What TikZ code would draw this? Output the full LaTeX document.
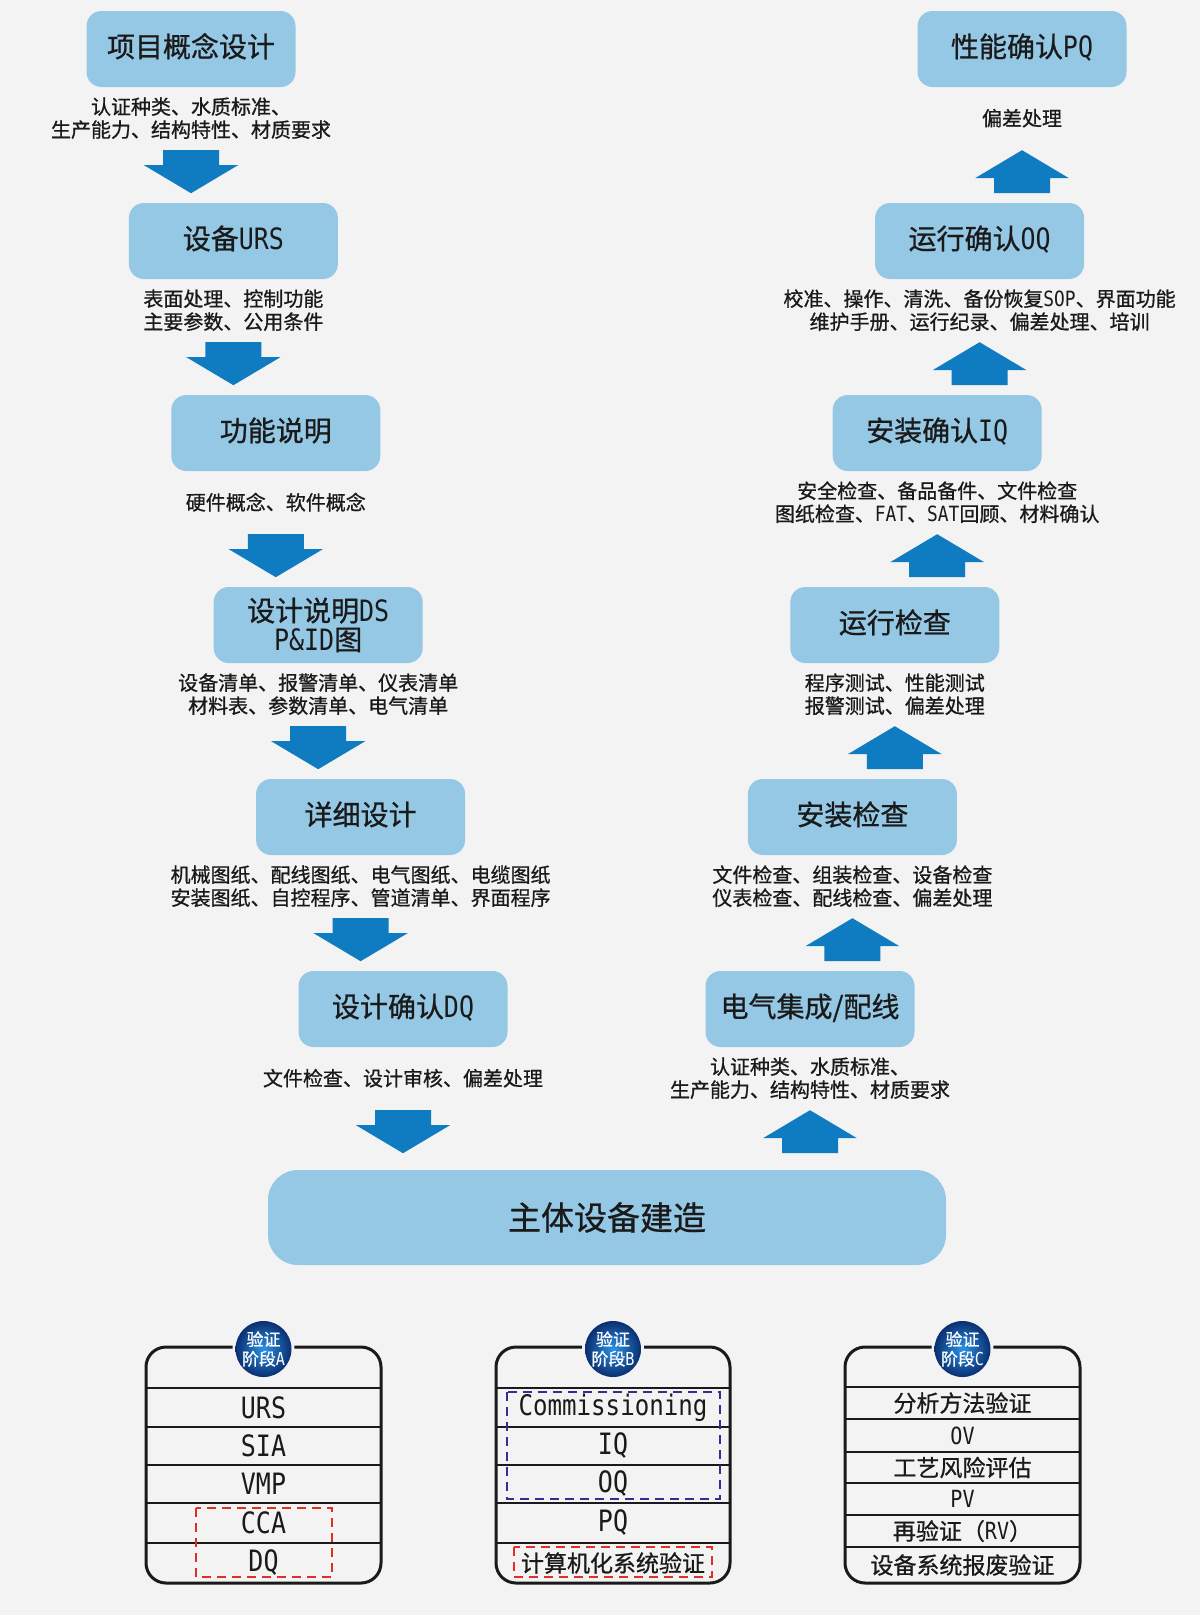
\documentclass[tikz,border=0pt]{standalone}
\usepackage{fontspec}
\setmainfont{Noto Sans CJK SC}[FakeBold=0.8]
\newfontfamily\monolat[Scale=1.05,FakeStretch=0.85]{DejaVu Sans Mono}
\usetikzlibrary{calc}
\definecolor{bg}{HTML}{F3F3F3}
\definecolor{boxblue}{HTML}{95C8E5}
\definecolor{arrblue}{HTML}{0F7BC0}
\definecolor{ink}{HTML}{1A1A1A}
\definecolor{dred}{HTML}{E52D27}
\definecolor{dnavy}{HTML}{2E3192}
\definecolor{badgelight}{HTML}{2A93E6}
\definecolor{badgedark}{HTML}{0B2F70}
\newcommand\smlat[1]{{\monolat\fontsize{22.5}{24}\selectfont #1}}
\tikzset{
 boxbase/.style={rounded corners=15pt, fill=boxblue, minimum width=209pt, minimum height=76pt, inner sep=0pt, align=center, font=\fontsize{28}{29}\selectfont, text=ink},
 stepbox/.style={boxbase, text height=22pt, text depth=5.8pt},
 mainbox/.style={rounded corners=30pt, fill=boxblue, minimum width=678pt, minimum height=95pt, inner sep=0pt, font=\fontsize{33}{35}\selectfont, text=ink},
 lab/.style={align=center, inner sep=0pt, font=\fontsize{20}{23}\selectfont, text=ink},
 downarr/.pic={\fill[arrblue] (-28,0) -- (28,0) -- (28,15) -- (47,15) -- (0,43) -- (-47,15) -- (-28,15) -- cycle;},
 uparr/.pic={\fill[arrblue] (0,0) -- (47,28) -- (28,28) -- (28,43) -- (-28,43) -- (-28,28) -- (-47,28) -- cycle;},
 tbl/.style={draw=ink, line width=3pt, rounded corners=20pt},
 rowline/.style={draw=ink, line width=2.5pt},
 rowL/.style={font=\monolat\fontsize{28}{30}\selectfont, text=ink, inner sep=0pt},
 rowS/.style={font=\monolat\fontsize{27}{29}\selectfont, text=ink, inner sep=0pt},
 rowC/.style={font=\fontsize{23}{25}\selectfont, text=ink, inner sep=0pt},
 badgetxt/.style={font=\fontsize{17}{19.5}\selectfont, text=white, align=center, inner sep=0pt},
 reddash/.style={draw=dred, line width=2pt, dash pattern=on 9pt off 6pt},
 bluedash/.style={draw=dnavy, line width=2pt, dash pattern=on 9pt off 6pt},
}
\begin{document}
\begin{tikzpicture}[x=1pt,y=-1pt]
\fill[bg] (0,0) rectangle (1200,1615);
\useasboundingbox (0,0) rectangle (1200,1615);
% left column
\node[stepbox] (l1) at (191,49) {项目概念设计};
\node[stepbox] (l2) at (233.4,241) {设备{\monolat URS}};
\node[stepbox] (l3) at (275.8,433) {功能说明};
\node[boxbase] (l4) at (318.2,625) {设计说明{\monolat DS}\\{\monolat P\&ID}图};
\node[stepbox] (l5) at (360.6,817) {详细设计};
\node[stepbox] (l6) at (403,1009) {设计确认{\monolat DQ}};
% right column
\node[stepbox] (r1) at (1022,49) {性能确认{\monolat PQ}};
\node[stepbox] (r2) at (979.6,241) {运行确认{\monolat OQ}};
\node[stepbox] (r3) at (937.2,433) {安装确认{\monolat IQ}};
\node[stepbox] (r4) at (894.8,625) {运行检查};
\node[stepbox] (r5) at (852.4,817) {安装检查};
\node[stepbox] (r6) at (810,1009) {电气集成/配线};
% labels left
\node[lab] (la1) at ($(l1.south)+(0,31)$) {认证种类、水质标准、\\生产能力、结构特性、材质要求};
\node[lab] (la2) at ($(l2.south)+(0,31)$) {表面处理、控制功能\\主要参数、公用条件};
\node[lab] (la3) at ($(l3.south)+(0,31)$) {硬件概念、软件概念};
\node[lab] (la4) at ($(l4.south)+(0,31)$) {设备清单、报警清单、仪表清单\\材料表、参数清单、电气清单};
\node[lab] (la5) at ($(l5.south)+(0,31)$) {机械图纸、配线图纸、电气图纸、电缆图纸\\安装图纸、自控程序、管道清单、界面程序};
\node[lab] (la6) at ($(l6.south)+(0,31)$) {文件检查、设计审核、偏差处理};
% labels right
\node[lab] (ra1) at ($(r1.south)+(0,31)$) {偏差处理};
\node[lab] (ra2) at ($(r2.south)+(0,31)$) {校准、操作、清洗、备份恢复{\monolat SOP}、界面功能\\维护手册、运行纪录、偏差处理、培训};
\node[lab] (ra3) at ($(r3.south)+(0,31)$) {安全检查、备品备件、文件检查\\图纸检查、{\monolat FAT}、{\monolat SAT}回顾、材料确认};
\node[lab] (ra4) at ($(r4.south)+(0,31)$) {程序测试、性能测试\\报警测试、偏差处理};
\node[lab] (ra5) at ($(r5.south)+(0,31)$) {文件检查、组装检查、设备检查\\仪表检查、配线检查、偏差处理};
\node[lab] (ra6) at ($(r6.south)+(0,31)$) {认证种类、水质标准、\\生产能力、结构特性、材质要求};
% arrows
\foreach \b in {l1,l2,l3,l4,l5,l6} { \pic at ($(\b.south)+(0,63)$) {downarr}; }
\foreach \b in {r1,r2,r3,r4,r5,r6} { \pic at ($(\b.south)+(0,63)$) {uparr}; }
% main box
\node[mainbox] (main) at (607,1217.5) {主体设备建造};
% ---------- table A
\draw[tbl] (146,1347) rectangle (381,1583);
\foreach \yy in {1388,1427,1465,1503,1543} { \draw[rowline] (146,\yy) -- (381,\yy); }
\node[rowL] (ta1) at (263.5,1407.5) {URS};
\node[rowL] (ta2) at (263.5,1446) {SIA};
\node[rowL] (ta3) at (263.5,1484) {VMP};
\node[rowL] (ta4) at (263.5,1523) {CCA};
\node[rowL] (ta5) at (263.5,1563) {DQ};
\draw[reddash] (196,1508) rectangle (332,1577);
\fill[bg] (263.5,1349) circle (31pt);
\shade[inner color=badgelight, outer color=badgedark] (263.5,1349) circle (28pt);
\node[badgetxt] (bA) at (263.5,1349) {验证\\阶段{\monolat A}};
% ---------- table B
\draw[tbl] (496,1347) rectangle (730,1583);
\foreach \yy in {1388,1427,1465,1503,1543} { \draw[rowline] (496,\yy) -- (730,\yy); }
\node[rowS] (tb1) at (613,1407.5) {Commissioning};
\node[rowL] (tb2) at (613,1446) {IQ};
\node[rowL] (tb3) at (613,1484) {OQ};
\node[rowL] (tb4) at (613,1523) {PQ};
\node[rowC] (tb5) at (613,1563) {计算机化系统验证};
\draw[bluedash] (507,1392) rectangle (720,1499);
\draw[reddash] (514,1547) rectangle (712,1577);
\fill[bg] (613,1349) circle (31pt);
\shade[inner color=badgelight, outer color=badgedark] (613,1349) circle (28pt);
\node[badgetxt] (bB) at (613,1349) {验证\\阶段{\monolat B}};
% ---------- table C
\draw[tbl] (845,1347) rectangle (1080,1583);
\foreach \yy in {1387,1419,1452,1483,1515,1547} { \draw[rowline] (845,\yy) -- (1080,\yy); }
\node[rowC] (tc1) at (962.5,1403) {分析方法验证};
\node[rowC] (tc2) at (962.5,1435.5) {\smlat{OV}};
\node[rowC] (tc3) at (962.5,1467.5) {工艺风险评估};
\node[rowC] (tc4) at (962.5,1499) {\smlat{PV}};
\node[rowC] (tc5) at (962.5,1531) {再验证（\smlat{RV}）};
\node[rowC] (tc6) at (962.5,1565) {设备系统报废验证};
\fill[bg] (962.5,1349) circle (31pt);
\shade[inner color=badgelight, outer color=badgedark] (962.5,1349) circle (28pt);
\node[badgetxt] (bC) at (962.5,1349) {验证\\阶段{\monolat C}};
\end{tikzpicture}
\end{document}
